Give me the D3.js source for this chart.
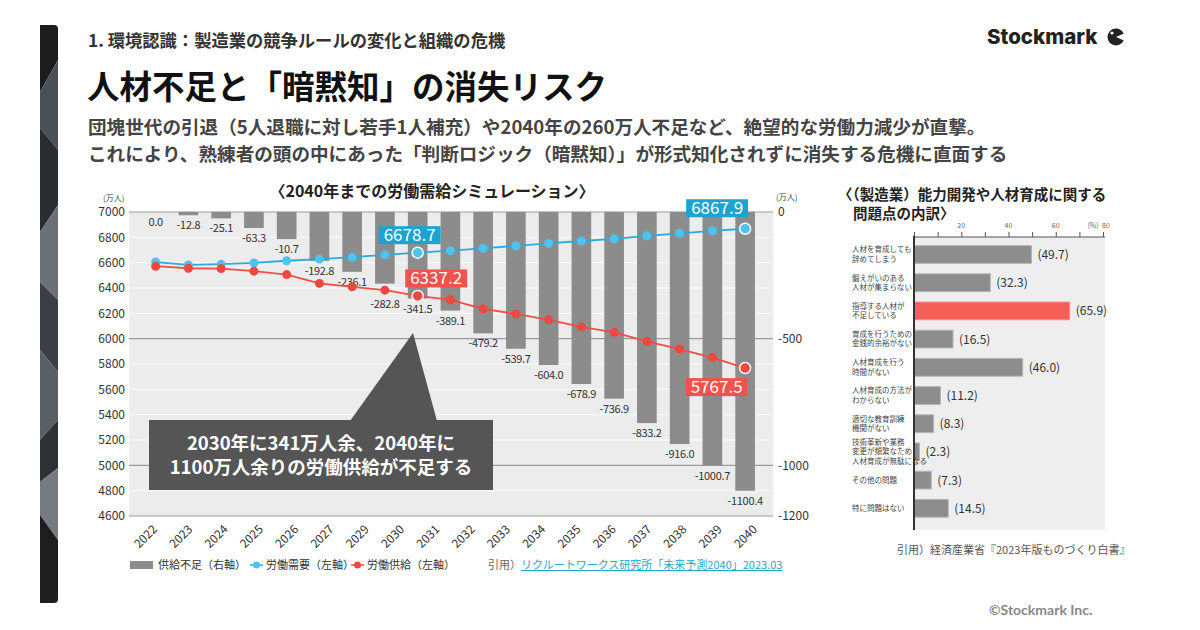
<!DOCTYPE html>
<html>
<head>
<meta charset="utf-8">
<script src="https://cdn.jsdelivr.net/npm/d3@7"></script>
<style>
body { margin: 0; background: #fff; }
text { font-family: "Noto Sans CJK JP", "Noto Sans", sans-serif; }
</style>
</head>
<body>
<svg id="slide" width="1200" height="630"></svg>
<script>
// left chart : 2040 labour supply / demand simulation
var years = [2022,2023,2024,2025,2026,2027,2028,2029,2030,2031,2032,2033,2034,2035,2036,2037,2038,2039,2040]
var demand = [6605,6582,6588,6598,6615,6628,6643,6662,6678.7,6695,6713,6733,6752,6771,6788,6812,6832,6851,6867.9]
var supply = [6572,6556,6553,6533,6506,6436,6409,6383,6337.2,6307,6236,6195,6149,6093,6050,5979,5918,5851,5767.5]
var shortage = [0,-12.8,-25.1,-63.3,-107,-192.8,-236.1,-282.8,-341.5,-389.1,-479.2,-539.7,-604.0,-678.9,-736.9,-833.2,-916.0,-1000.7,-1100.4]
var shortageLabels = ["0.0","-12.8","-25.1","-63.3","-10.7","-192.8","-236.1","-282.8","-341.5","-389.1","-479.2","-539.7","-604.0","-678.9","-736.9","-833.2","-916.0","-1000.7","-1100.4"]
var yearTicks = ["2022","2023","2024","2025","2026","2027","2029","2030","2031","2032","2033","2034","2035","2036","2037","2038","2039","2040"]
var leftTicks = [4600,4800,5000,5200,5400,5600,5800,6000,6200,6400,6600,6800,7000]
var rightTicks = [0,-500,-1000,-1200]

// right chart : problems in skill development (manufacturing)
var issueLabels = [
	["人材を育成しても","辞めてしまう"],
	["鍛えがいのある","人材が集まらない"],
	["指導する人材が","不足している"],
	["育成を行うための","金銭的余裕がない"],
	["人材育成を行う","時間がない"],
	["人材育成の方法が","わからない"],
	["適切な教育訓練","機関がない"],
	["技術革新や業務","変更が頻繁なため","人材育成が無駄になる"],
	["その他の問題"],
	["特に問題はない"]
]
var issueValues = [49.7,32.3,65.9,16.5,46.0,11.2,8.3,2.3,7.3,14.5]
var pctTicks = [0,10,20,30,40,50,60,70,80]
var pctTickLabels = [20,40,60]

var svg = d3.select("#slide")

// ---- left decorative strip
var strip = [
	[[40,25],[58,25],[58,60],[40,92],"#1d1d1d"],
	[[40,92],[58,60],[58,150],[40,128],"#4b5055"],
	[[40,128],[58,150],[58,205],[40,232],"#2a2d30"],
	[[40,232],[58,205],[58,300],[40,282],"#6b7075"],
	[[40,282],[58,300],[58,372],[40,350],"#3b3f43"],
	[[40,350],[58,372],[58,420],[40,440],"#5a5f64"],
	[[40,440],[58,420],[58,468],[40,482],"#2e3235"],
	[[40,482],[58,468],[58,540],[40,515],"#757b81"],
	[[40,515],[58,540],[58,603],[40,603],"#1e1e1e"]
]
svg.append("clipPath").attr("id","stripClip")
	.append("path")
	.attr("d","M40,25 H54 Q58,25 58,29 V599 Q58,603 54,603 H40 Z")
svg.append("g").attr("clip-path","url(#stripClip)")
	.selectAll("polygon").data(strip).enter()
	.append("polygon")
	.attr("points", function(d){ return d.slice(0,4).map(function(p){ return p.join(",") }).join(" ") })
	.attr("fill", function(d){ return d[4] })

// ---- header
svg.append("text").attr("x",88).attr("y",47)
	.style("font-size","17.3px").style("font-weight","700").attr("fill","#333")
	.text("1. 環境認識：製造業の競争ルールの変化と組織の危機")
svg.append("text").attr("x",87).attr("y",99)
	.style("font-size","32.5px").style("font-weight","700").attr("fill","#111")
	.text("人材不足と「暗黙知」の消失リスク")
svg.append("text").attr("x",88).attr("y",134)
	.style("font-size","18.6px").style("font-weight","700").attr("fill","#444")
	.text("団塊世代の引退（5人退職に対し若手1人補充）や2040年の260万人不足など、絶望的な労働力減少が直撃。")
svg.append("text").attr("x",88).attr("y",161)
	.style("font-size","18.6px").style("font-weight","700").attr("fill","#444")
	.text("これにより、熟練者の頭の中にあった「判断ロジック（暗黙知）」が形式知化されずに消失する危機に直面する")

// logo
svg.append("text").attr("x",987).attr("y",44)
	.style("font-family","Inter, Lato, sans-serif").style("font-size","20.5px").style("font-weight","800")
	.attr("fill","#222").text("Stockmark")
svg.append("circle").attr("cx",1116).attr("cy",37).attr("r",8.5).attr("fill","#222")
svg.append("path").attr("d","M1116,37 L1125,33 L1125,41 Z").attr("fill","#fff")
svg.append("circle").attr("cx",1112).attr("cy",33).attr("r",1.6).attr("fill","#fff")

// copyright
svg.append("text").attr("x",989).attr("y",615)
	.style("font-family","Lato, sans-serif").style("font-size","14px").style("font-weight","700")
	.attr("fill","#888").text("©Stockmark Inc.")

// =============== left chart
var plotL = 129, plotR = 773, plotT = 212, plotB = 516

var yL = d3.scaleLinear().domain([4600,7000]).range([plotB,plotT])
var yR = d3.scaleLinear().domain([-1200,0]).range([plotB,plotT])
var x = d3.scaleBand().domain(years).range([139.3,761.5]).paddingInner(0.4).paddingOuter(0.2)
var xLabel = d3.scalePoint().domain(yearTicks).range([155,755])

svg.append("text").attr("x",432).attr("y",197).attr("text-anchor","middle")
	.style("font-size","16px").style("font-weight","700").attr("fill","#222")
	.text("〈2040年までの労働需給シミュレーション〉")

svg.append("rect").attr("x",plotL).attr("y",plotT)
	.attr("width",plotR-plotL).attr("height",plotB-plotT).attr("fill","#ececec")

// light grid (left axis)
svg.append("g").selectAll("line").data(leftTicks).enter()
	.append("line")
	.attr("x1",plotL).attr("x2",plotR)
	.attr("y1",function(d){ return yL(d) }).attr("y2",function(d){ return yL(d) })
	.attr("stroke","#f7f7f7").attr("stroke-width",1.3)

// darker grid (right axis)
svg.append("g").selectAll("line").data(rightTicks).enter()
	.append("line")
	.attr("x1",plotL).attr("x2",plotR)
	.attr("y1",function(d){ return yR(d) }).attr("y2",function(d){ return yR(d) })
	.attr("stroke","#9a9a9a").attr("stroke-width",1.2)

// axes
var axisL = svg.append("g").attr("transform","translate("+plotL+",0)")
	.call(d3.axisLeft(yL).tickValues(leftTicks).tickSize(0).tickPadding(4).tickFormat(d3.format("d")))
axisL.select(".domain").remove()
axisL.selectAll("text").style("font-size","12px").attr("fill","#333")

var axisR = svg.append("g").attr("transform","translate("+plotR+",0)")
	.call(d3.axisRight(yR).tickValues(rightTicks).tickSize(0).tickPadding(5).tickFormat(function(d){ return String(d) }))
axisR.select(".domain").remove()
axisR.selectAll("text").style("font-size","12px").attr("fill","#333")

svg.append("text").attr("x",103).attr("y",201).style("font-size","8px").attr("fill","#444").text("(万人)")
svg.append("text").attr("x",776).attr("y",200).style("font-size","8px").attr("fill","#444").text("(万人)")

// x labels
svg.append("g").selectAll("text").data(yearTicks).enter()
	.append("text")
	.attr("transform",function(d){ return "translate("+(xLabel(d)+3)+",530) rotate(-45)" })
	.attr("text-anchor","end")
	.style("font-size","12px").attr("fill","#333")
	.text(function(d){ return d })

// shortage bars (right axis)
svg.append("g").selectAll("rect").data(shortage).enter()
	.append("rect")
	.attr("x",function(d,i){ return x(years[i]) })
	.attr("y",yR(0))
	.attr("width",x.bandwidth())
	.attr("height",function(d){ return yR(d) - yR(0) })
	.attr("fill","#8c8c8c")

// bar labels, pushed below the supply dot when they would sit on it
svg.append("g").selectAll("text").data(shortage).enter()
	.append("text")
	.attr("x",function(d,i){ return x(years[i]) + x.bandwidth()/2 })
	.attr("y",function(d,i){
		var y = yR(d) + 14
		var dotY = yL(supply[i])
		if (y - 4 > dotY - 5 && y - 4 < dotY + 4) y = dotY + 18
		return y
	})
	.attr("text-anchor","middle")
	.style("font-size","11px").style("letter-spacing","-0.3px").attr("fill","#333")
	.text(function(d,i){ return shortageLabels[i] })

// lines (left axis)
var series = [
	{ vals: demand, line: "#27acdc", dot: "#4cc4ef" },
	{ vals: supply, line: "#ef4f47", dot: "#ee4840" }
]
var lineGen = d3.line()
	.x(function(d,i){ return x(years[i]) + x.bandwidth()/2 })
	.y(function(d){ return yL(d) })

series.forEach(function(s){
	svg.append("path").datum(s.vals)
		.attr("d",lineGen).attr("fill","none")
		.attr("stroke",s.line).attr("stroke-width",1.8)
	svg.append("g").selectAll("circle").data(s.vals).enter()
		.append("circle")
		.attr("cx",function(d,i){ return x(years[i]) + x.bandwidth()/2 })
		.attr("cy",function(d){ return yL(d) })
		.attr("r",function(d,i){ return (i==8 || i==18) ? 5.5 : 4.5 })
		.attr("fill",s.dot)
		.attr("stroke",function(d,i){ return (i==8 || i==18) ? "#fff" : "none" })
		.attr("stroke-width",1.5)
})

// value callouts
var callouts = [
	{ vals: demand, i: 8, color: "#1ba3d1", dx: -8, dy: -17.5 },
	{ vals: demand, i: 18, color: "#1ba3d1", dx: -28, dy: -20.5 },
	{ vals: supply, i: 8, color: "#f1524b", dx: 18.5, dy: -17.5 },
	{ vals: supply, i: 18, color: "#f1524b", dx: -28.5, dy: 19 }
]
callouts.forEach(function(c){
	var cx = x(years[c.i]) + x.bandwidth()/2 + c.dx
	var cy = yL(c.vals[c.i]) + c.dy
	var g = svg.append("g")
	var r = g.append("rect").attr("fill",c.color)
	var t = g.append("text").attr("x",cx).attr("y",cy+6)
		.attr("text-anchor","middle")
		.style("font-size","17px").attr("fill","#fff")
		.text(d3.format(".1f")(c.vals[c.i]))
	var w = t.node().getComputedTextLength() + 10
	r.attr("x",cx-w/2).attr("y",cy-9).attr("width",w).attr("height",18)
})

// annotation
var note = svg.append("g")
note.append("polygon").attr("points","350,421 413,333 437,421").attr("fill","#555")
note.append("rect").attr("x",149).attr("y",420).attr("width",344).attr("height",70).attr("fill","#555")
note.append("text").attr("x",321).attr("y",450).attr("text-anchor","middle")
	.style("font-size","18.5px").style("font-weight","700").attr("fill","#fff")
	.text("2030年に341万人余、2040年に")
note.append("text").attr("x",321).attr("y",474).attr("text-anchor","middle")
	.style("font-size","18.5px").style("font-weight","700").attr("fill","#fff")
	.text("1100万人余りの労働供給が不足する")

// legend
var legend = svg.append("g").style("font-size","11px")
legend.append("rect").attr("x",130).attr("y",561).attr("width",23).attr("height",8).attr("fill","#8c8c8c")
legend.append("text").attr("x",158).attr("y",569).attr("fill","#333").text("供給不足（右軸）")
legend.append("line").attr("x1",250).attr("x2",263).attr("y1",565).attr("y2",565).attr("stroke",series[0].line).attr("stroke-width",1.5)
legend.append("circle").attr("cx",256.5).attr("cy",565).attr("r",3.5).attr("fill",series[0].dot)
legend.append("text").attr("x",266).attr("y",569).attr("fill","#333").text("労働需要（左軸）")
legend.append("line").attr("x1",351).attr("x2",364).attr("y1",565).attr("y2",565).attr("stroke",series[1].line).attr("stroke-width",1.5)
legend.append("circle").attr("cx",357.5).attr("cy",565).attr("r",3.5).attr("fill",series[1].dot)
legend.append("text").attr("x",367).attr("y",569).attr("fill","#333").text("労働供給（左軸）")

svg.append("text").attr("x",488).attr("y",569).style("font-size","11px").attr("fill","#666").text("引用）")
svg.append("text").attr("x",521).attr("y",569).style("font-size","11px").attr("fill","#25a7c4")
	.style("text-decoration","underline")
	.text("リクルートワークス研究所「未来予測2040」2023.03")

// =============== right chart
var bL = 914, bR = 1105, bT = 237, bB = 530

svg.append("text").attr("x",838).attr("y",200)
	.style("font-size","14.5px").style("font-weight","700").attr("fill","#222")
	.text("〈（製造業）能力開発や人材育成に関する")
svg.append("text").attr("x",853).attr("y",219)
	.style("font-size","14.5px").style("font-weight","700").attr("fill","#222")
	.text("問題点の内訳〉")

var px = d3.scaleLinear().domain([0,80]).range([bL,1103])
var py = d3.scaleBand().domain(d3.range(issueValues.length)).range([240.4,522.4]).paddingInner(0.37).paddingOuter(0.185)

svg.append("rect").attr("x",bL).attr("y",bT).attr("width",bR-bL).attr("height",bB-bT).attr("fill","#eeeeee")

var topAxis = svg.append("g").attr("transform","translate(0,"+bT+")")
	.call(d3.axisTop(px).tickValues(pctTicks).tickSize(5).tickFormat(""))
topAxis.select(".domain").attr("stroke","#555").attr("d","M"+bL+",0H"+bR)
topAxis.selectAll("line").attr("stroke","#555")

svg.append("g").selectAll("text").data(pctTickLabels).enter()
	.append("text")
	.attr("x",function(d){ return px(d) }).attr("y",228)
	.attr("text-anchor","middle").style("font-size","7px").attr("fill","#666")
	.text(function(d){ return d })
svg.append("text").attr("x",px(80)+3).attr("y",228).attr("text-anchor","middle")
	.style("font-size","7px").attr("fill","#666").text("80")
svg.append("text").attr("x",px(80)-10).attr("y",228).attr("text-anchor","middle")
	.style("font-size","7px").attr("fill","#666").text("(%)")

var maxVal = d3.max(issueValues)
svg.append("g").selectAll("rect").data(issueValues).enter()
	.append("rect")
	.attr("x",px(0)).attr("y",function(d,i){ return py(i) })
	.attr("width",function(d){ return px(d) - px(0) })
	.attr("height",py.bandwidth())
	.attr("fill",function(d){ return d == maxVal ? "#f55f58" : "#8d8d8d" })
	.attr("stroke",function(d){ return d == maxVal ? "#f8908a" : "#b5b5b5" })
	.attr("stroke-width",1)

svg.append("g").selectAll("text").data(issueValues).enter()
	.append("text")
	.attr("x",function(d){ return px(d) + 6 })
	.attr("y",function(d,i){ return py(i) + py.bandwidth()/2 + 4.5 })
	.style("font-size","12px").attr("fill","#333")
	.text(function(d){ return "(" + d3.format(".1f")(d) + ")" })

var cats = svg.append("g").selectAll("text").data(issueLabels).enter()
	.append("text")
	.attr("y",function(d,i){ return py(i) + py.bandwidth()/2 - (d.length-1)*4.7 + 2.5 })
	.style("font-size","7.5px").attr("fill","#444")
cats.selectAll("tspan").data(function(d){ return d }).enter()
	.append("tspan")
	.attr("x",852)
	.attr("dy",function(d,i){ return i == 0 ? 0 : 9.4 })
	.text(function(d){ return d })

svg.append("line").attr("x1",bL).attr("x2",bL).attr("y1",bT-1).attr("y2",bB)
	.attr("stroke","#333").attr("stroke-width",2)

svg.append("text").attr("x",897).attr("y",554)
	.style("font-size","11px").attr("fill","#555")
	.text("引用）経済産業省『2023年版ものづくり白書』")
</script>
</body>
</html>
